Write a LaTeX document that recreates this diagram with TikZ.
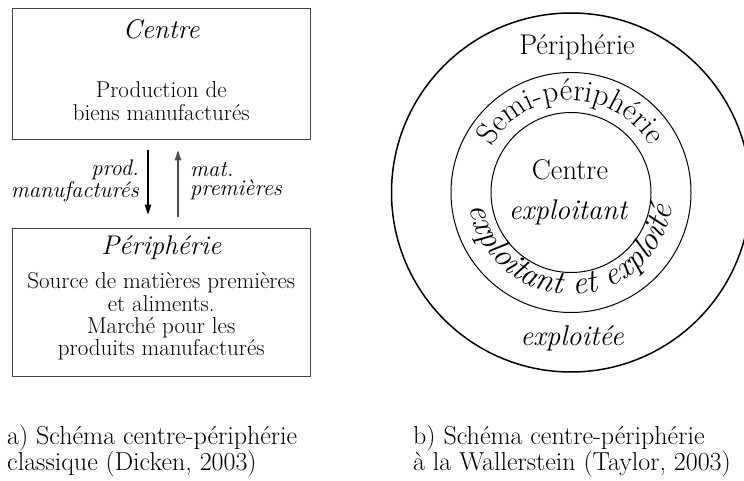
\documentclass[tikz,border=0pt]{standalone}
\usepackage{fontspec}
\usetikzlibrary{arrows.meta,decorations.text}
\begin{document}
\begin{tikzpicture}[x=1pt,y=1pt,
  boxst/.style={draw=black!75, line width=0.9pt, rectangle, inner sep=0pt, minimum width=298.5pt},
  bodyst/.style={align=center, inner sep=0pt, font=\fontsize{23}{22.8}\selectfont},
  titlest/.style={inner sep=0pt, font=\fontsize{27}{27}\selectfont\itshape},
  lblst/.style={inner sep=0pt, font=\fontsize{22.5}{18.5}\selectfont\itshape},
  arrst/.style={line width=1.1pt, -{Triangle[length=10pt,width=6.5pt]}},
  ringst/.style={draw, circle, inner sep=0pt, line width=1.0pt},
  circtxt/.style={inner sep=0pt, font=\fontsize{28.5}{28.5}\selectfont},
  capst/.style={align=left, inner sep=0pt, anchor=west, font=\fontsize{26}{26}\selectfont}]
\useasboundingbox (0,0) rectangle (744,480);
% left diagram
\node[boxst, minimum height=131pt] (centre) at (161.25,406.5) {};
\node[titlest] (ctitle) at (161.25,451) {Centre};
\node[bodyst] (cbody) at (161.25,378.5) {Production de\\biens manufacturés};
\node[boxst, minimum height=148pt] (peri) at (161.25,178) {};
\node[titlest] (ptitle) at (161.25,232) {Périphérie};
\node[bodyst, font=\fontsize{23}{22.3}\selectfont] (pbody) at (161.25,163.5) {Source de matières premières\\et aliments.\\Marché pour les\\produits manufacturés};
\draw[arrst] ([xshift=-13.25pt,yshift=-11pt]centre.south) -- ([xshift=-13.25pt,yshift=13pt]peri.north);
\draw[arrst, draw=black!70, fill=black!70] ([xshift=16.75pt,yshift=11pt]peri.north) -- ([xshift=16.75pt,yshift=-11pt]centre.south);
\node[lblst, align=right, anchor=east] (lprod) at (139,299) {prod.\\manufacturés};
\node[lblst, align=left, anchor=west] (lmat) at (190,299) {mat.\\premières};
% right diagram
\node[ringst, line width=1.5pt, minimum size=359pt] (outer) at (571,287.5) {};
\node[ringst, minimum size=240pt] (middle) at (571,287.5) {};
\node[ringst, minimum size=160pt] (inner) at (571,287.5) {};
\node[circtxt] (tperi) at (577,433) {Périphérie};
\node[circtxt] (tcentre) at (570,310) {Centre};
\node[circtxt, font=\fontsize{28.5}{28.5}\selectfont\itshape] (texpl) at (568,268) {exploitant};
\node[circtxt, font=\fontsize{28.5}{28.5}\selectfont\itshape] (texplee) at (572,142) {exploitée};
\path[decorate, decoration={text along path, text align=center,
  text={|\fontsize{31}{31}\selectfont|Semi-périphérie}}]
  ([shift={(180:92)}]inner.center) arc[start angle=180, end angle=0, radius=92];
\path[decorate, decoration={text along path, text align=center,
  text={|\fontsize{33}{33}\selectfont\itshape|exploitant et exploité}}]
  ([shift={(180:102)}]inner.center) arc[start angle=180, end angle=360, radius=102];
% captions
\node[capst] (capa) at (7,29) {a) Schéma centre-périphérie\\classique (Dicken, 2003)};
\node[capst] (capb) at (413,29) {b) Schéma centre-périphérie\\à la Wallerstein (Taylor, 2003)};
\end{tikzpicture}
\end{document}
